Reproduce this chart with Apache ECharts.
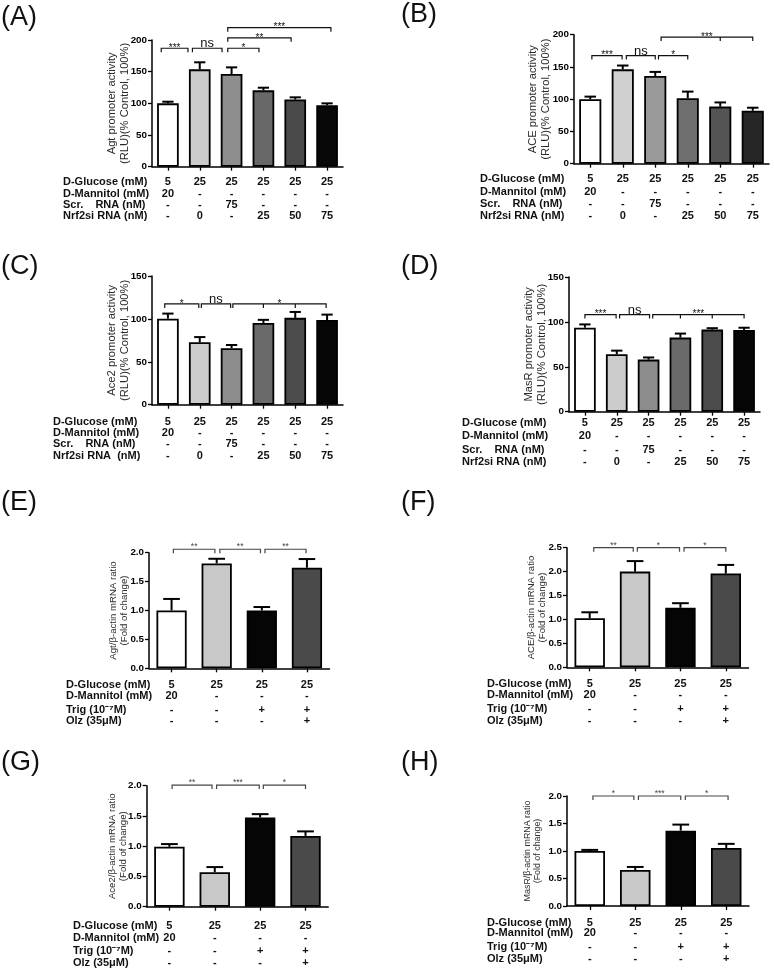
<!DOCTYPE html>
<html><head><meta charset="utf-8">
<script src="https://cdn.jsdelivr.net/npm/echarts@6/dist/echarts.min.js"></script>
<style>html,body{margin:0;padding:0;background:#fff}#c{width:774px;height:972px}</style>
</head><body><div id="c"></div>
<script>
// ================= DATA =================
const groupsAD = ['G1','G2','G3','G4','G5','G6'];
const groupsEH = ['G1','G2','G3','G4'];

const ticksAB = [0, 50, 100, 150, 200];
const ticksCD = [0, 50, 100, 150];
const ticksEGH = [0, 0.5, 1.0, 1.5, 2.0];
const ticksF = [0, 0.5, 1.0, 1.5, 2.0, 2.5];

// bar means and upper error-bar ends
const meanA = [100, 153.7, 146.3, 120.5, 106, 97];
const errA  = [102.6, 164.8, 156.8, 124.7, 109.5, 100];
const meanB = [100, 146.3, 136.1, 101.5, 88.5, 82];
const errB  = [104, 152.2, 142.3, 111.8, 95, 86.8];
const meanC = [100.3, 72.7, 65.9, 95.3, 101.2, 98.6];
const errC  = [106.2, 78.8, 69.6, 98.9, 108.1, 105];
const meanD = [93.6, 64, 58, 82.5, 91.4, 91];
const errD  = [97.2, 68, 60.4, 87, 93, 93.5];
const meanE = [1.0, 1.815, 1.0, 1.74];
const errE  = [1.2, 1.895, 1.06, 1.89];
const meanF = [1.025, 2.0, 1.245, 1.96];
const errF  = [1.15, 2.22, 1.34, 2.14];
const meanG = [0.99, 0.57, 1.475, 1.17];
const errG  = [1.035, 0.655, 1.53, 1.245];
const meanH = [1.0, 0.655, 1.37, 1.055];
const errH  = [1.02, 0.71, 1.48, 1.13];

// significance brackets: [from, to, level, label, intermediate ticks]
const sigA = [[-0.21, 0.63, 187, '***', []], [0.77, 1.70, 187, 'ns', []], [1.88, 2.86, 187, '*', []], [1.88, 3.87, 203.5, '**', []], [1.88, 5.12, 219.5, '***', []]];
const sigB = [[0.05, 0.98, 167.6, '***', []], [1.11, 2.0, 167.6, 'ns', []], [2.1, 3.0, 167.6, '*', []], [2.18, 5.0, 196.3, '***', [4]]];
const sigC = [[-0.1, 0.97, 117.4, '*', []], [1.05, 1.97, 117.4, 'ns', []], [2.04, 4.97, 117.4, '*', [3, 4]]];
const sigD = [[0.0, 0.98, 108.2, '***', []], [1.09, 2.03, 108.2, 'ns', []], [2.13, 5.0, 108.2, '***', [3, 4]]];
const sigE = [[0.04, 0.96, 2.06, '**', []], [1.07, 1.97, 2.06, '**', []], [2.07, 2.98, 2.06, '**', []]];
const sigF = [[0.09, 0.96, 2.5, '**', []], [1.05, 1.98, 2.5, '*', []], [2.08, 3.0, 2.5, '*', []]];
const sigG = [[0.06, 0.94, 2.01, '**', []], [1.04, 1.98, 2.01, '***', []], [2.07, 3.0, 2.01, '*', []]];
const sigH = [[0.07, 0.97, 2.0, '*', []], [1.07, 2.0, 2.0, '***', []], [2.1, 3.04, 2.0, '*', []]];

// treatment table
const rowsAD = ['D-Glucose (mM)', 'D-Mannitol (mM)', 'Scr.    RNA (nM)', 'Nrf2si RNA (nM)'];
const rowsC  = ['D-Glucose (mM)', 'D-Mannitol (mM)', 'Scr.    RNA (nM)', 'Nrf2si RNA  (nM)'];
const glucoseAD  = ['5', '25', '25', '25', '25', '25'];
const mannitolAD = ['20', '-', '-', '-', '-', '-'];
const scrAD      = ['-', '-', '75', '-', '-', '-'];
const nrf2AD     = ['-', '0', '-', '25', '50', '75'];
const rowsEH = ['D-Glucose (mM)', 'D-Mannitol (mM)', 'Trig (10\u207B\u2077M)', 'Olz (35\u03BCM)'];
const glucoseEH  = ['5', '25', '25', '25'];
const mannitolEH = ['20', '-', '-', '-'];
const trigEH     = ['-', '-', '+', '+'];
const olzEH      = ['-', '-', '-', '+'];

const nameA = 'Agt promoter activity\n(RLU)(% Control, 100%)';
const nameB = 'ACE promoter activity\n(RLU)(% Control, 100%)';
const nameC = 'Ace2 promoter activity\n(RLU)(% Control, 100%)';
const nameD = 'MasR promoter activity\n(RLU)(% Control, 100%)';
const nameE = 'Agt/\u03B2-actin mRNA ratio\n(Fold of change)';
const nameF = 'ACE/\u03B2-actin mRNA ratio\n(Fold of change)';
const nameG = 'Ace2/\u03B2-actin mRNA ratio\n(Fold of change)';
const nameH = 'MasR/\u03B2-actin mRNA ratio\n(Fold of change)';

// ================= STYLES / LAYOUT =================
const FF = '"Liberation Sans", Arial, Helvetica, sans-serif';
const colorsA = ['#ffffff', '#cbcbcb', '#8e8e8e', '#686868', '#4a4a4a', '#080808'];
const colorsB = ['#ffffff', '#d0d0d0', '#9a9a9a', '#6e6e6e', '#545454', '#262626'];
const colorsCD = ['#ffffff', '#cccccc', '#8c8c8c', '#6a6a6a', '#4b4b4b', '#050505'];
const colorsEH = ['#ffffff', '#c8c8c8', '#050505', '#4a4a4a'];

const L_A = {grid: [152, 40, 191, 126.7], nameGap: 21, nameSize: 11.2, headX: 63, rowY: [182, 193.5, 204.5, 216], lab: ['(A)', 1, 17.5], barW: '68%', cap: 0.52, starSize: 10, starDy: 3};
const L_B = {grid: [574, 34.7, 195, 129], nameGap: 22, nameSize: 11.2, headX: 480, rowY: [179, 192, 203.5, 216], lab: ['(B)', 401, 14.5], barW: '68%', cap: 0.52, starSize: 10, starDy: 3};
const L_C = {grid: [152, 276, 191, 128.7], nameGap: 21, nameSize: 11.2, headX: 53, rowY: [421.7, 433.3, 444.3, 455.7], lab: ['(C)', 1, 267], barW: '68%', cap: 0.52, starSize: 10, starDy: 3};
const L_D = {grid: [569, 277, 191, 134.7], nameGap: 21, nameSize: 11.2, headX: 462, rowY: [423.3, 436, 449.5, 461.7], lab: ['(D)', 401, 267], barW: '68%', cap: 0.52, starSize: 10, starDy: 3};
const L_E = {grid: [149, 552.7, 180.5, 115.6], nameGap: 19, nameSize: 9.6, headX: 66, rowY: [684.5, 696, 710, 721], lab: ['(E)', 1, 502.5], barW: '67%', cap: 0.55, starSize: 8.5, starDy: 5.5};
const L_F = {grid: [567, 547.7, 181.5, 119.6], nameGap: 19, nameSize: 9.6, headX: 487, rowY: [684, 694.5, 709.3, 721], lab: ['(F)', 401, 502.5], barW: '67%', cap: 0.55, starSize: 8.5, starDy: 5.5};
const L_G = {grid: [146.7, 785.7, 181.5, 121], nameGap: 18, nameSize: 9.6, headX: 73, rowY: [925.7, 937.7, 951, 963.3], lab: ['(G)', 1, 763], barW: '67%', cap: 0.55, starSize: 8.5, starDy: 5.5};
const L_H = {grid: [567, 796, 182, 110], nameGap: 24, nameSize: 8.9, headX: 487, rowY: [923.3, 933.3, 946.7, 959.3], lab: ['(H)', 401, 763], barW: '67%', cap: 0.55, starSize: 8.5, starDy: 5.5};

const panels = [
  {cats: groupsAD, ticks: ticksAB, mean: meanA, err: errA, colors: colorsA, name: nameA, sig: sigA, rows: rowsAD, table: [glucoseAD, mannitolAD, scrAD, nrf2AD], L: L_A},
  {cats: groupsAD, ticks: ticksAB, mean: meanB, err: errB, colors: colorsB, name: nameB, sig: sigB, rows: rowsAD, table: [glucoseAD, mannitolAD, scrAD, nrf2AD], L: L_B},
  {cats: groupsAD, ticks: ticksCD, mean: meanC, err: errC, colors: colorsCD, name: nameC, sig: sigC, rows: rowsC, table: [glucoseAD, mannitolAD, scrAD, nrf2AD], L: L_C},
  {cats: groupsAD, ticks: ticksCD, mean: meanD, err: errD, colors: colorsCD, name: nameD, sig: sigD, rows: rowsAD, table: [glucoseAD, mannitolAD, scrAD, nrf2AD], L: L_D},
  {cats: groupsEH, ticks: ticksEGH, mean: meanE, err: errE, colors: colorsEH, name: nameE, sig: sigE, rows: rowsEH, table: [glucoseEH, mannitolEH, trigEH, olzEH], L: L_E},
  {cats: groupsEH, ticks: ticksF, mean: meanF, err: errF, colors: colorsEH, name: nameF, sig: sigF, rows: rowsEH, table: [glucoseEH, mannitolEH, trigEH, olzEH], L: L_F},
  {cats: groupsEH, ticks: ticksEGH, mean: meanG, err: errG, colors: colorsEH, name: nameG, sig: sigG, rows: rowsEH, table: [glucoseEH, mannitolEH, trigEH, olzEH], L: L_G},
  {cats: groupsEH, ticks: ticksEGH, mean: meanH, err: errH, colors: colorsEH, name: nameH, sig: sigH, rows: rowsEH, table: [glucoseEH, mannitolEH, trigEH, olzEH], L: L_H}
];

// ================= BUILD =================
const grids = [], xAxes = [], yAxes = [], series = [], graphics = [];

function txt(text, x, y, font, fill, align, valign) {
  return {type: 'text', x: x, y: y,
    style: {text: text, font: font, fill: fill, align: align, textAlign: align, verticalAlign: valign, textVerticalAlign: valign}};
}
function poly(points, stroke, lw) {
  return {type: 'polyline', shape: {points: points}, style: {stroke: stroke, lineWidth: lw, fill: null}};
}

panels.forEach(function (P, k) {
  const L = P.L;
  const n = P.cats.length;
  const decimals = P.ticks[1] < 1 ? 1 : 0;
  grids.push({left: L.grid[0], top: L.grid[1], width: L.grid[2], height: L.grid[3]});
  const xi = xAxes.length;
  xAxes.push({type: 'category', gridIndex: k, data: P.cats,
    axisLine: {show: true, onZero: false, lineStyle: {color: '#000', width: 1.5}},
    axisTick: {show: true, alignWithLabel: true, length: 4, lineStyle: {color: '#000', width: 1.3}},
    axisLabel: {show: false}, splitLine: {show: false}});
  xAxes.push({type: 'value', gridIndex: k, min: -0.5, max: n - 0.5, show: false,
    axisLine: {show: false, onZero: false}, splitLine: {show: false}});
  yAxes.push({type: 'value', gridIndex: k,
    min: P.ticks[0], max: P.ticks[P.ticks.length - 1], interval: P.ticks[1] - P.ticks[0],
    axisLine: {show: true, onZero: false, lineStyle: {color: '#000', width: 1.5}},
    axisTick: {show: true, length: 4, lineStyle: {color: '#000', width: 1.3}},
    axisLabel: {color: '#000', fontWeight: 'bold', fontSize: 9.8, fontFamily: FF, margin: 5,
      formatter: function (v) { return v.toFixed(decimals); }},
    splitLine: {show: false},
    name: P.name, nameLocation: 'middle', nameRotate: 90, nameGap: L.nameGap, nameMoveOverlap: false,
    nameTextStyle: {fontSize: L.nameSize, color: '#2a2a2a', fontFamily: FF, lineHeight: L.nameSize + 1.5}});

  // bars
  series.push({type: 'bar', xAxisIndex: xi, yAxisIndex: k, barWidth: L.barW, z: 2,
    data: P.mean.map(function (v, i) { return {value: v, itemStyle: {color: P.colors[i]}}; }),
    itemStyle: {borderColor: '#000', borderWidth: 1.8}});

  // error bars (upper)
  series.push({type: 'custom', xAxisIndex: xi, yAxisIndex: k, z: 3, clip: false,
    data: P.mean.map(function (m, i) { return [i, m, P.err[i]]; }),
    encode: {x: 0, y: [1, 2]},
    renderItem: function (params, api) {
      const a = api.coord([api.value(0), api.value(1)]);
      const b = api.coord([api.value(0), api.value(2)]);
      const w = api.size([1, 0])[0] * parseFloat(L.barW) / 100 * L.cap / 2;
      return {type: 'group', children: [
        poly([[a[0], a[1]], [b[0], b[1]]], '#000', 2),
        poly([[b[0] - w, b[1]], [b[0] + w, b[1]]], '#000', 2)
      ]};
    }});

  // significance brackets
  series.push({type: 'custom', xAxisIndex: xi + 1, yAxisIndex: k, z: 4, clip: false,
    data: P.sig.map(function (s) { return [s[0], s[1], s[2]]; }),
    encode: {x: [0, 1], y: 2},
    renderItem: function (params, api) {
      const s = P.sig[params.dataIndex];
      const a = api.coord([api.value(0), api.value(2)]);
      const b = api.coord([api.value(1), api.value(2)]);
      const col = k < 4 ? '#111111' : '#444444';
      const ch = [poly([[a[0], a[1] + 4], [a[0], a[1]], [b[0], a[1]], [b[0], a[1] + 4]], col, 1.2)];
      s[4].forEach(function (m) {
        const p = api.coord([m, api.value(2)]);
        ch.push(poly([[p[0], a[1]], [p[0], a[1] + 4]], col, 1.2));
      });
      const mx = (a[0] + b[0]) / 2;
      if (s[3] === 'ns') {
        ch.push(txt('ns', mx, a[1] + 2, '13px ' + FF, '#111', 'center', 'bottom'));
      } else {
        ch.push(txt(s[3], mx, a[1] - L.starDy + 3, L.starSize + 'px ' + FF, col, 'center', 'middle'));
      }
      return {type: 'group', children: ch};
    }});

  // treatment table values under each bar
  series.push({type: 'custom', xAxisIndex: xi, yAxisIndex: k, z: 4, clip: false,
    data: P.cats.map(function (c, i) { return [i, P.ticks[0]]; }),
    renderItem: function (params, api) {
      const p = api.coord([api.value(0), api.value(1)]);
      const ch = P.table.map(function (row, j) {
        return txt(row[params.dataIndex], p[0], L.rowY[j], 'bold 11px ' + FF, '#111', 'center', 'middle');
      });
      return {type: 'group', children: ch};
    }});

  // table row headers
  P.rows.forEach(function (r, j) {
    graphics.push(txt(r, L.headX, L.rowY[j], 'bold 11px ' + FF, '#111', 'left', 'middle'));
  });
  // panel letter
  graphics.push(txt(L.lab[0], L.lab[1], L.lab[2], '27px ' + FF, '#111', 'left', 'middle'));
});

const chart = echarts.init(document.getElementById('c'), null, {renderer: 'canvas'});
chart.setOption({
  backgroundColor: '#ffffff',
  animation: false,
  grid: grids,
  xAxis: xAxes,
  yAxis: yAxes,
  series: series,
  graphic: {elements: graphics}
});
</script>
</body></html>
